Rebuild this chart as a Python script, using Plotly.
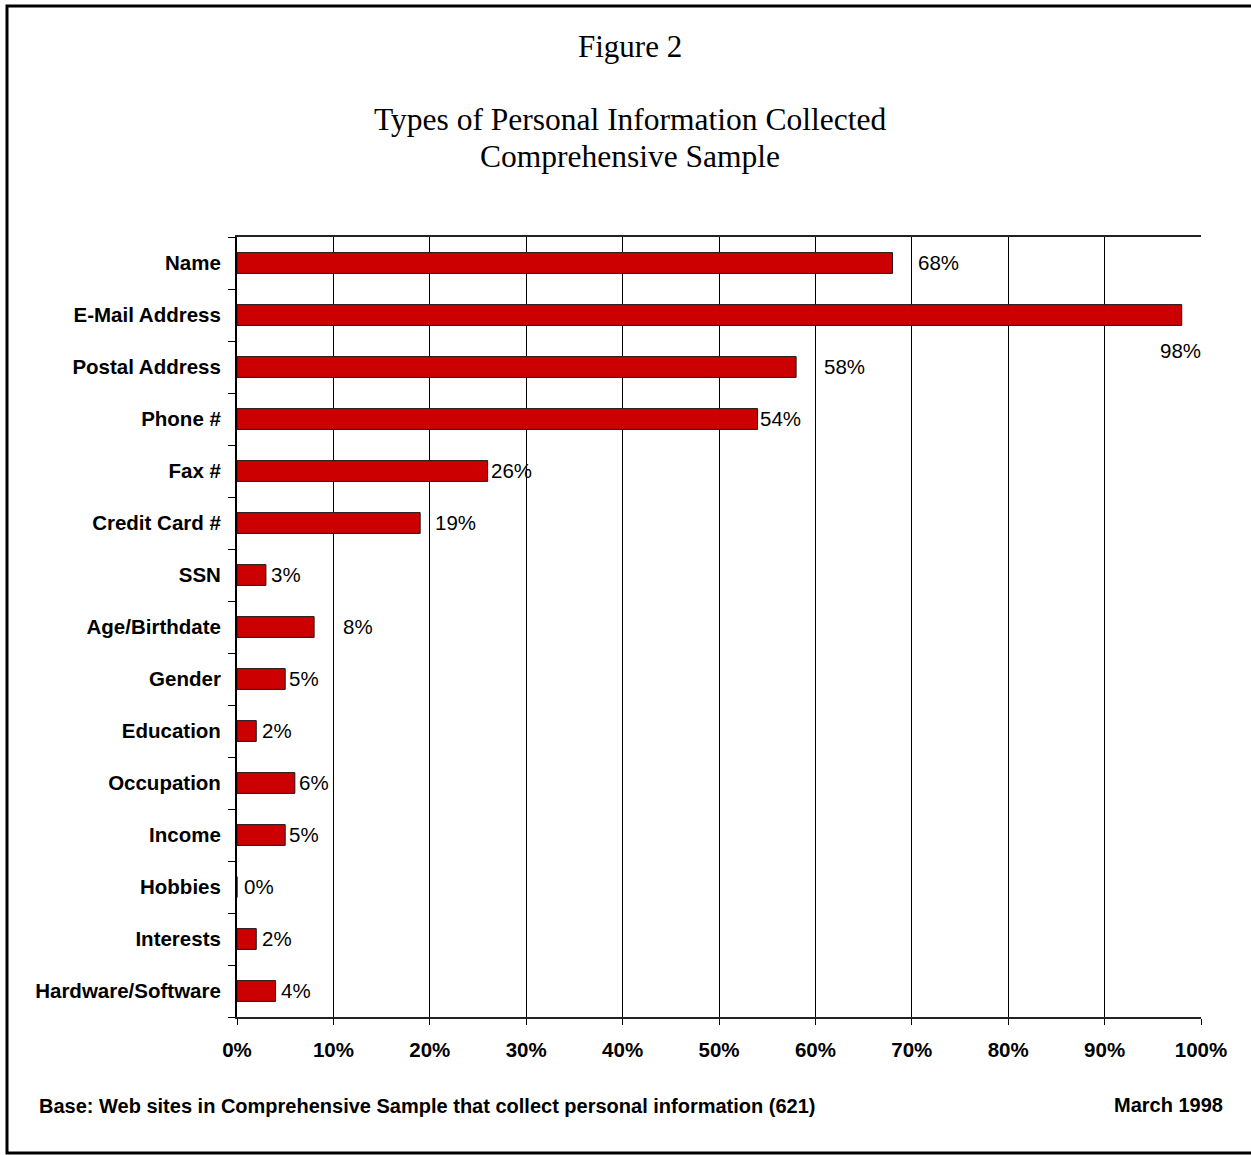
import plotly.graph_objects as go

categories = ["Name", "E-Mail Address", "Postal Address", "Phone #", "Fax #",
              "Credit Card #", "SSN", "Age/Birthdate", "Gender", "Education",
              "Occupation", "Income", "Hobbies", "Interests", "Hardware/Software"]
values = [68, 98, 58, 54, 26, 19, 3, 8, 5, 2, 6, 5, 0, 2, 4]
value_labels = ["68%", "98%", "58%", "54%", "26%", "19%", "3%", "8%", "5%", "2%",
                "6%", "5%", "0%", "2%", "4%"]
x_ticks = [0, 10, 20, 30, 40, 50, 60, 70, 80, 90, 100]
x_tick_labels = ["0%", "10%", "20%", "30%", "40%", "50%", "60%", "70%", "80%", "90%", "100%"]

# label placement (pixel offsets, style only)
label_dx = [23, -1, 26, 0, 1, 13, 3, 27, 2, 4, 2, 2, 5, 4, 3]
label_dy = [0, -36, 0, 0, 0, 0, 0, 0, 0, 0, 0, 0, 0, 0, 0]

W, H = 1251, 1155
L, R, T, B = 237, 50, 237, 138
pw, ph = W - L - R, H - T - B

sans = "Liberation Sans, Arial, sans-serif"
serif = "Liberation Serif, Times New Roman, serif"
FS = 20.5

fig = go.Figure()
fig.add_trace(go.Bar(
    x=values, y=categories, orientation="h", width=0.4,
    marker=dict(color="#CC0000", line=dict(color="#1a1a1a", width=1)),
    hoverinfo="x+y",
))

for c, v, t, dx, dy in zip(categories, values, value_labels, label_dx, label_dy):
    fig.add_annotation(x=v, y=c, text=t, showarrow=False,
                       xanchor="center" if dy != 0 else "left",
                       yanchor="middle", xshift=dx, yshift=dy + 1,
                       font=dict(family=sans, size=FS, color="#000"))

def px(xp):
    return (xp - L) / pw

def py(yp):
    return (H - B - yp) / ph

fig.add_annotation(xref="paper", yref="paper", x=px(630), y=py(47), text="Figure 2",
                   showarrow=False, xanchor="center", yanchor="middle",
                   font=dict(family=serif, size=31, color="#000"))
fig.add_annotation(xref="paper", yref="paper", x=px(630), y=py(119),
                   text="Types of Personal Information Collected",
                   showarrow=False, xanchor="center", yanchor="middle",
                   font=dict(family=serif, size=31.5, color="#000"))
fig.add_annotation(xref="paper", yref="paper", x=px(630), y=py(157),
                   text="Comprehensive Sample",
                   showarrow=False, xanchor="center", yanchor="middle",
                   font=dict(family=serif, size=31.5, color="#000"))
fig.add_annotation(xref="paper", yref="paper", x=px(37), y=py(1106),
                   text="<b>Base: Web sites in Comprehensive Sample that collect personal information (621)</b>",
                   showarrow=False, xanchor="left", yanchor="middle",
                   font=dict(family=sans, size=20, color="#000"))
fig.add_annotation(xref="paper", yref="paper", x=px(1225), y=py(1105),
                   text="<b>March 1998</b>",
                   showarrow=False, xanchor="right", yanchor="middle",
                   font=dict(family=sans, size=20, color="#000"))

fig.add_shape(type="rect", xref="paper", yref="paper",
              x0=px(7), x1=px(1256), y0=py(1153), y1=py(6),
              line=dict(color="#000", width=3), fillcolor="rgba(0,0,0,0)", layer="above")

fig.update_layout(
    width=W, height=H,
    margin=dict(l=L, r=R, t=T, b=B),
    paper_bgcolor="white", plot_bgcolor="white",
    showlegend=False,
    xaxis=dict(range=[0, 100], tickvals=x_ticks, ticktext=x_tick_labels,
               showgrid=True, gridcolor="#000", gridwidth=1,
               showline=True, linecolor="#222", linewidth=2, mirror=True,
               ticks="outside", ticklen=6, tickcolor="#000", tickwidth=1,
               tickfont=dict(family=sans, size=FS, color="#000", weight="bold"),
               ticklabelstandoff=7,
               zeroline=False, fixedrange=True),
    yaxis=dict(categoryorder="array", categoryarray=categories[::-1],
               tickson="boundaries", ticks="outside", ticklen=7, tickcolor="#000", tickwidth=1,
               showgrid=False, showline=True, linecolor="#000", linewidth=2,
               tickfont=dict(family=sans, size=FS, color="#000", weight="bold"),
               ticklabelstandoff=10, fixedrange=True),
)

fig.write_html("out.html")
